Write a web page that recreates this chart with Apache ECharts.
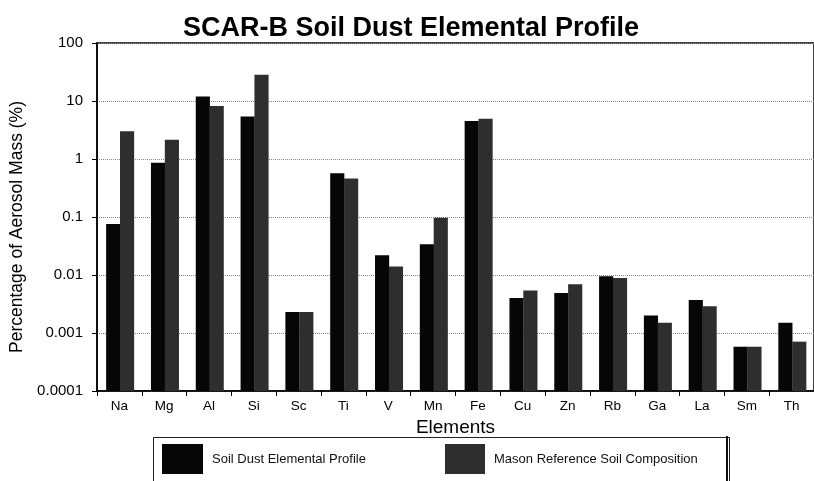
<!DOCTYPE html>
<html>
<head>
<meta charset="utf-8">
<script src="https://cdn.jsdelivr.net/npm/echarts@6/dist/echarts.min.js"></script>
<style>html,body{margin:0;padding:0;background:#fff;}#c{width:814px;height:481px;}</style>
</head>
<body>
<div id="c"></div>
<script>
const elements = ['Na','Mg','Al','Si','Sc','Ti','V','Mn','Fe','Cu','Zn','Rb','Ga','La','Sm','Th'];
const soilDust = [0.076, 0.86, 11.9, 5.4, 0.0023, 0.57, 0.022, 0.034, 4.5, 0.0040, 0.0049, 0.0095, 0.0020, 0.0037, 0.00058, 0.0015];
const masonRef = [3.0, 2.15, 8.2, 28.4, 0.0023, 0.46, 0.014, 0.097, 4.95, 0.0054, 0.0069, 0.0089, 0.0015, 0.0029, 0.00058, 0.00071];
const yTickLabels = {'0.0001':'0.0001','0.001':'0.001','0.01':'0.01','0.1':'0.1','1':'1','10':'10','100':'100'};
const seriesNames = ['Soil Dust Elemental Profile', 'Mason Reference Soil Composition'];
const Y_MIN = 0.0001, Y_MAX = 100;

const chart = echarts.init(document.getElementById('c'), null, {renderer: 'canvas'});
const font = 'Liberation Sans, Arial, Helvetica, sans-serif';

function makeRender(startFrac) {
  return function (params, api) {
    const ci = api.value(0);
    const v = api.value(1);
    const top = api.coord([ci, v]);
    const base = api.coord([ci, Y_MIN]);
    const bw = api.size([1, 0])[0];
    const w = bw * 0.3155;
    return {
      type: 'rect',
      shape: {x: top[0] + bw * startFrac, y: top[1], width: w, height: base[1] - top[1]},
      style: api.style()
    };
  };
}

chart.setOption({
  animation: false,
  backgroundColor: '#ffffff',
  title: {
    text: 'SCAR-B Soil Dust Elemental Profile',
    left: 178, top: 10,
    textStyle: {fontFamily: font, fontWeight: 'bold', fontSize: 27, color: '#000'}
  },
  grid: {
    left: 97, top: 43, width: 725, bottom: 90,
    show: true, borderColor: '#000', borderWidth: 1.5, backgroundColor: 'transparent'
  },
  legend: [
    {
      data: [seriesNames[0]], left: 162, top: 444, itemWidth: 41, itemHeight: 30,
      itemGap: 0, textStyle: {fontFamily: font, fontSize: 13, color: '#111', padding: [0,0,0,4]},
      icon: 'rect', padding: 0
    },
    {
      data: [seriesNames[1]], left: 445, top: 444, itemWidth: 40, itemHeight: 30,
      itemGap: 0, textStyle: {fontFamily: font, fontSize: 13, color: '#111', padding: [0,0,0,4]},
      icon: 'rect', padding: 0
    }
  ],
  graphic: [
    {type: 'rect', left: 151, top: 435, shape: {width: 576, height: 60},
     style: {fill: 'none', stroke: '#222', lineWidth: 1}, z: 0},
    {type: 'rect', left: 726, top: 436, shape: {width: 2, height: 60},
     style: {fill: '#111'}, z: 0}
  ],
  xAxis: {
    type: 'category',
    data: elements,
    name: 'Elements',
    nameLocation: 'middle',
    nameGap: 17,
    nameTextStyle: {fontFamily: font, fontSize: 19, color: '#000'},
    axisLine: {show: true, lineStyle: {color: '#000', width: 1.5}},
    axisTick: {show: true, alignWithLabel: false, length: 5, lineStyle: {color: '#000'}},
    axisLabel: {fontFamily: font, fontSize: 13.5, color: '#000', margin: 8, interval: 0},
    splitLine: {show: false}
  },
  yAxis: {
    type: 'log',
    logBase: 10,
    min: Y_MIN,
    max: Y_MAX,
    name: 'Percentage of Aerosol Mass (%)',
    nameLocation: 'middle',
    nameGap: 62,
    nameTextStyle: {fontFamily: font, fontSize: 17.5, color: '#000', padding: [0, 20, 0, 0]},
    axisLine: {show: true, lineStyle: {color: '#000', width: 1.5}},
    axisTick: {show: true, length: 5, lineStyle: {color: '#000'}},
    axisLabel: {
      fontFamily: font, fontSize: 15, color: '#000', margin: 14,
      formatter: function (v) {
        const k = String(Number(v.toPrecision(3)));
        return yTickLabels[k] !== undefined ? yTickLabels[k] : k;
      }
    },
    splitLine: {show: true, lineStyle: {color: '#888', type: 'dotted', width: 1}},
    minorTick: {show: false}
  },
  series: [
    {
      name: seriesNames[0], type: 'custom',
      data: soilDust.map((v, i) => [i, v]),
      encode: {x: 0, y: 1},
      renderItem: makeRender(-0.296),
      itemStyle: {color: '#060606'}
    },
    {
      name: seriesNames[1], type: 'custom',
      data: masonRef.map((v, i) => [i, v]),
      encode: {x: 0, y: 1},
      renderItem: makeRender(0.0135),
      itemStyle: {color: '#2e2e2e'}
    }
  ]
});
</script>
</body>
</html>
